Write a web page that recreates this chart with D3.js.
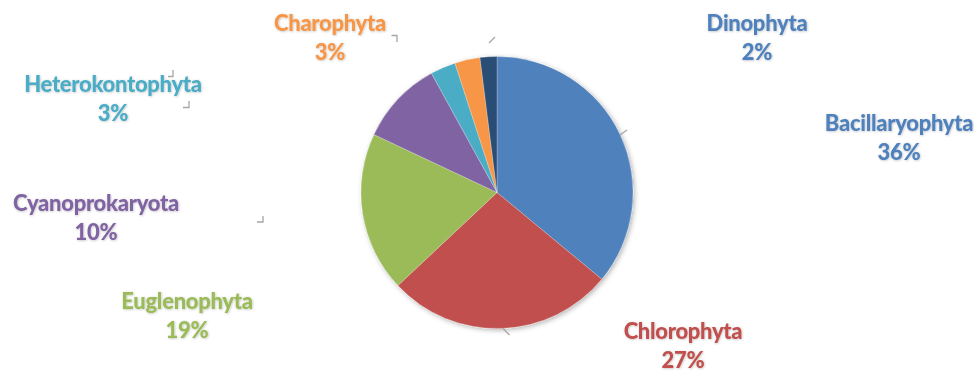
<!DOCTYPE html>
<html>
<head>
<meta charset="utf-8">
<script src="https://cdn.jsdelivr.net/npm/d3@7"></script>
<style>
  html, body { margin: 0; padding: 0; background: #fff; }
  svg { display: block; }
</style>
</head>
<body>
<svg id="chart" width="974" height="372"></svg>
<script>
// Phytoplankton divisions, share of species (%)
const divisions = ["Bacillaryophyta", "Chlorophyta", "Euglenophyta", "Cyanoprokaryota",
                   "Heterokontophyta", "Charophyta", "Dinophyta"];
const shares = [36, 27, 19, 10, 3, 3, 2];
const colors = ["#4F81BD", "#C0504D", "#9BBB59", "#8064A2", "#4BACC6", "#F79646", "#2C4D75"];

// Label placement (centre x, first baseline) for each division
const labelPos = {
  "Bacillaryophyta":  [899, 131],
  "Chlorophyta":      [683, 339],
  "Euglenophyta":     [187, 309],
  "Cyanoprokaryota":  [96, 211],
  "Heterokontophyta": [113, 92],
  "Charophyta":       [330, 31],
  "Dinophyta":        [757, 31]
};

const width = 974, height = 372;
const cx = 497, cy = 192.5, radius = 136;

const svg = d3.select("#chart");
const defs = svg.append("defs");

const pieShadow = defs.append("filter").attr("id", "pieShadow")
  .attr("x", "-20%").attr("y", "-20%").attr("width", "140%").attr("height", "140%");
pieShadow.append("feDropShadow").attr("dx", 1.5).attr("dy", 1.5)
  .attr("stdDeviation", 2.5).attr("flood-color", "#000").attr("flood-opacity", 0.3);

const textGlow = defs.append("filter").attr("id", "textGlow")
  .attr("x", "-10%").attr("y", "-30%").attr("width", "120%").attr("height", "160%");
textGlow.append("feDropShadow").attr("dx", 0.6).attr("dy", 0.6)
  .attr("stdDeviation", 0.8).attr("flood-color", "#000").attr("flood-opacity", 0.25);

const color = d3.scaleOrdinal().domain(divisions).range(colors);

const pie = d3.pie().sort(null).value(d => d.value);
const arcs = pie(divisions.map((name, i) => ({ name, value: shares[i] })));
const arc = d3.arc().innerRadius(0).outerRadius(radius);

const g = svg.append("g").attr("transform", `translate(${cx},${cy})`);

g.append("g").attr("filter", "url(#pieShadow)")
  .selectAll("path")
  .data(arcs)
  .join("path")
  .attr("d", arc)
  .attr("fill", d => color(d.data.name))
  .attr("stroke", "#fff")
  .attr("stroke-width", 0.4)
  .attr("stroke-opacity", 0.6);

// Leader-line fragments between slices and their labels
const leaderFrag = {
  "Bacillaryophyta":  "M620,135 L627,130",
  "Chlorophyta":      "M503,328.5 L509.5,335",
  "Cyanoprokaryota":  "M263,216 L263,222 L257,222",
  "Heterokontophyta": "M173,70 L173,76.5 L168,76.5 M189,101 L189,107.5 L183,107.5",
  "Charophyta":       "M391.5,35.5 L397,35.5 L397,42",
  "Dinophyta":        "M489,43 L495,37"
};
svg.append("g").selectAll("path")
  .data(Object.entries(leaderFrag))
  .join("path")
  .attr("d", d => d[1])
  .attr("fill", "none")
  .attr("stroke", "#a6a6a6")
  .attr("stroke-width", 1.3);

const fmt = d3.format(".0f");
const total = d3.sum(shares);

const labels = svg.append("g")
  .attr("font-family", "Lato, 'Open Sans', sans-serif")
  .attr("font-weight", 900)
  .attr("font-size", 22)
  .attr("text-anchor", "middle")
  .attr("filter", "url(#textGlow)");

arcs.forEach(a => {
  const [x, y] = labelPos[a.data.name];
  const fill = a.data.name === "Dinophyta" ? color("Bacillaryophyta") : color(a.data.name);
  const t = labels.append("text").attr("x", x).attr("y", y).attr("fill", fill)
    .style("letter-spacing", "-0.3px");
  t.append("tspan").attr("x", x).text(a.data.name);
  t.append("tspan").attr("x", x).attr("dy", 29).text(fmt(a.data.value / total * 100) + "%");
});
</script>
</body>
</html>
